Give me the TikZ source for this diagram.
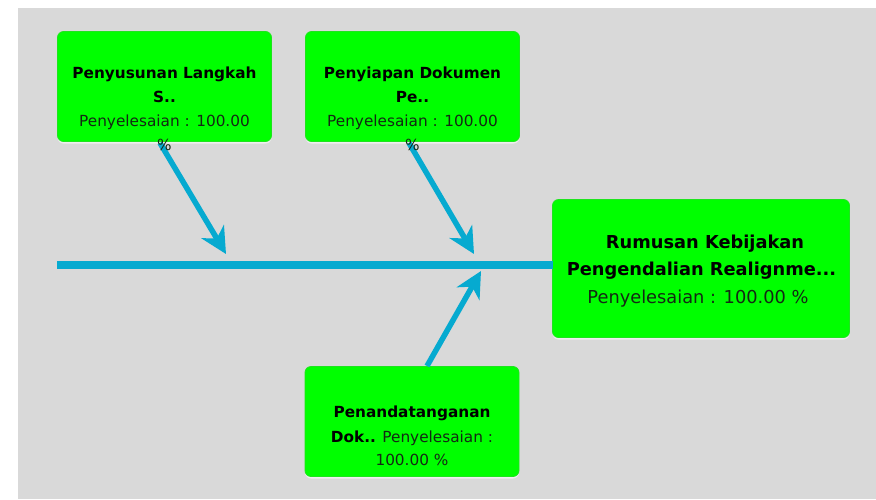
\documentclass[tikz,border=0pt]{standalone}
\usepackage{fontspec}
\setmainfont{DejaVu Sans}
\usetikzlibrary{arrows.meta,shadows}
\definecolor{bggray}{RGB}{217,217,217}
\definecolor{boxgreen}{RGB}{0,255,0}
\definecolor{boxedge}{RGB}{30,228,30}
\definecolor{fishblue}{RGB}{6,170,208}
\definecolor{txtreg}{RGB}{20,40,20}
\tikzset{
  greenbox/.style={rectangle, rounded corners=6pt, fill=boxgreen, draw=boxedge, line width=0.8pt,
    inner sep=0pt, outer sep=0pt,
    drop shadow={shadow xshift=0pt, shadow yshift=-2pt, fill=white, opacity=0.6}},
  smallbox/.style={greenbox, minimum width=214pt, minimum height=110pt},
  ln/.style={anchor=base, inner sep=0pt, outer sep=0pt},
  smallfont/.style={font=\fontsize{15.3}{24}\selectfont},
  bigfont/.style={font=\fontsize{17.8}{27}\selectfont},
  bone/.style={draw=fishblue, line width=5.5pt, -{Stealth[length=26pt,width=26pt,inset=8pt]}},
  spine/.style={draw=fishblue, line width=7.5pt}
}
\begin{document}
\begin{tikzpicture}[x=1pt,y=-1pt]
\path[use as bounding box, fill=white] (0,0) rectangle (876,499);
\fill[bggray] (18,8) rectangle (876,499);

% boxes
\node[smallbox] (b1) at (164.5,86.5) {};
\node[smallbox] (b2) at (412.5,86.5) {};
\node[greenbox, minimum width=297pt, minimum height=138pt] (b3) at (701,268.5) {};
\node[smallbox] (b4) at (412,421.5) {};

% spine
\coordinate (sp) at (57,265);
\draw[spine] (sp) -- (sp -| b3.west);

% bones
\coordinate (s1) at (160,143);
\coordinate (e1) at (226,254);
\coordinate (s2) at (409,143);
\coordinate (e2) at (474,254);
\coordinate (s4) at (427,366);
\coordinate (e4) at (481,271);
\draw[bone] (s1) -- (e1);
\draw[bone] (s2) -- (e2);
\draw[bone] (s4) -- (e4);

% texts box 1
\node[ln, smallfont] (t1a) at (164.5,78) {\textbf{Penyusunan Langkah}};
\node[ln, smallfont] (t1b) at (164.5,102) {\textbf{S..}};
\node[ln, smallfont, text=txtreg] (t1c) at (164.5,126.5) {Penyelesaian : 100.00};
\node[ln, smallfont, text=txtreg] (t1d) at (164.5,150.5) {\%};

% texts box 2
\node[ln, smallfont] (t2a) at (412.5,78) {\textbf{Penyiapan Dokumen}};
\node[ln, smallfont] (t2b) at (412.5,102) {\textbf{Pe..}};
\node[ln, smallfont, text=txtreg] (t2c) at (412.5,126.5) {Penyelesaian : 100.00};
\node[ln, smallfont, text=txtreg] (t2d) at (412.5,150.5) {\%};

% texts box 3
\node[ln, bigfont] (t3a) at (705,248) {\textbf{Rumusan Kebijakan}};
\node[ln, bigfont] (t3b) at (701.5,275) {\textbf{Pengendalian Realignme...}};
\node[ln, bigfont, text=txtreg] (t3c) at (698,303) {Penyelesaian : 100.00 \%};

% texts box 4
\node[ln, smallfont] (t4a) at (412,417) {\textbf{Penandatanganan}};
\node[ln, smallfont] (t4b) at (412,442) {\textbf{Dok..} \textcolor{txtreg}{Penyelesaian :}};
\node[ln, smallfont, text=txtreg] (t4c) at (412,465) {100.00 \%};
\end{tikzpicture}
\end{document}
